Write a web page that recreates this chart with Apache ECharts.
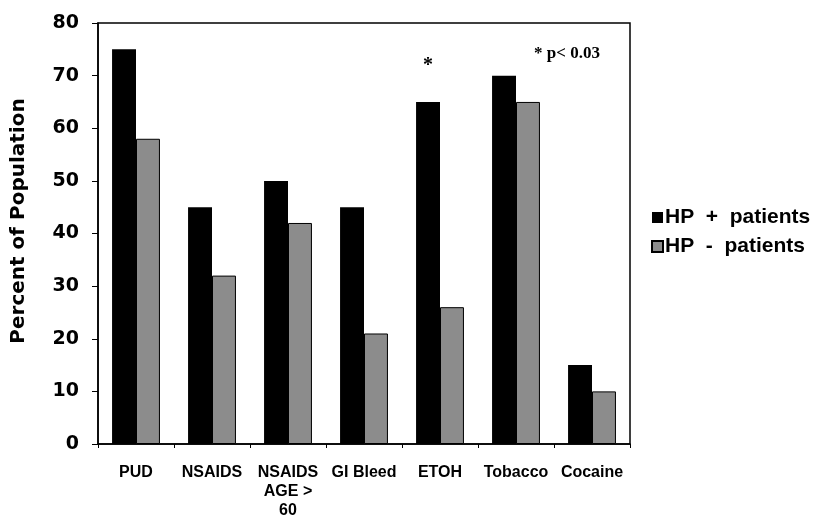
<!DOCTYPE html>
<html>
<head>
<meta charset="utf-8">
<script src="https://cdn.jsdelivr.net/npm/echarts@6/dist/echarts.min.js"></script>
<style>
html,body{margin:0;padding:0;background:#fff;}
#chart{width:828px;height:529px;}
</style>
</head>
<body>
<div id="chart"></div>
<script>
var categories = ['PUD', 'NSAIDS', 'NSAIDS\nAGE >\n60', 'GI Bleed', 'ETOH', 'Tobacco', 'Cocaine'];
var hpPositive = [75, 45, 50, 45, 65, 70, 15];
var hpNegative = [58, 32, 42, 21, 26, 65, 10];
var seriesNames = ['HP  +  patients', 'HP  -  patients'];
var significantIndex = 4;
var noteText = '* p< 0.03';
var yTitle = 'Percent of Population';

var chart = echarts.init(document.getElementById('chart'), null, {renderer: 'canvas'});

var posData = hpPositive.map(function (v, i) {
  if (i === significantIndex) {
    return {
      value: v,
      label: {
        show: true, position: 'top', distance: 26, formatter: '*',
        fontFamily: 'Liberation Serif', fontWeight: 'bold', fontSize: 20, color: '#000'
      }
    };
  }
  return v;
});

var option = {
  backgroundColor: '#fff',
  animation: false,
  grid: {
    left: 98, right: 198, top: 23, bottom: 85,
    show: true, borderColor: '#000', borderWidth: 1.5, backgroundColor: 'transparent'
  },
  legend: {
    orient: 'vertical',
    left: 646, top: 202,
    itemWidth: 11, itemHeight: 11, itemGap: 8,
    icon: 'rect',
    textStyle: {fontFamily: 'Liberation Sans', fontWeight: 'bold', fontSize: 21, color: '#000', padding: [0, 0, 0, -3]},
    data: seriesNames
  },
  xAxis: {
    type: 'category',
    data: categories,
    axisLine: {show: true, lineStyle: {color: '#000', width: 1.5}},
    axisTick: {show: true, length: 4, lineStyle: {color: '#000'}},
    axisLabel: {
      interval: 0, margin: 19, color: '#000',
      fontFamily: 'Liberation Sans', fontWeight: 'bold', fontSize: 16, lineHeight: 19
    },
    splitLine: {show: false}
  },
  yAxis: {
    type: 'value', min: 0, max: 80, interval: 10,
    axisLine: {show: true, lineStyle: {color: '#000', width: 1.5}},
    axisTick: {show: true, length: 6, lineStyle: {color: '#000'}},
    axisLabel: {margin: 19, color: '#000', fontFamily: 'DejaVu Sans', fontWeight: 'bold', fontSize: 19},
    splitLine: {show: false}
  },
  graphic: [{
    type: 'text', left: 534, top: 45,
    style: {text: noteText, fontFamily: 'Liberation Serif', fontWeight: 'bold', fontSize: 17, fill: '#000'}
  }, {
    type: 'text', x: 19, y: 221, rotation: Math.PI / 2,
    style: {
      text: yTitle, fontFamily: 'DejaVu Sans', fontWeight: 'bold', fontSize: 20, fill: '#000',
      align: 'center', verticalAlign: 'middle'
    }
  }],
  series: [{
    name: seriesNames[0], type: 'bar', data: posData,
    barGap: '0%', barCategoryGap: '37%',
    itemStyle: {color: '#000'}
  }, {
    name: seriesNames[1], type: 'bar', data: hpNegative,
    barGap: '0%', barCategoryGap: '37%',
    itemStyle: {color: '#8c8c8c', borderColor: '#000', borderWidth: 1}
  }]
};
chart.setOption(option);
</script>
</body>
</html>
